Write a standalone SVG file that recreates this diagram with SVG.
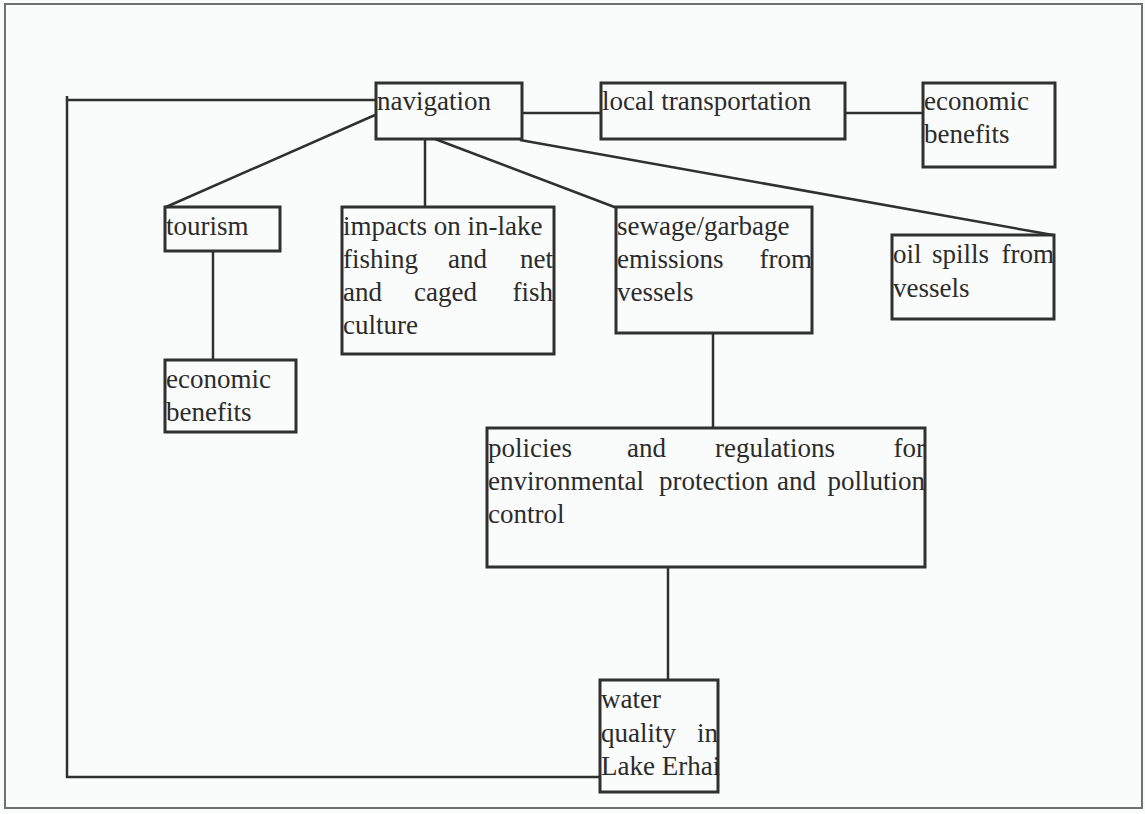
<svg xmlns="http://www.w3.org/2000/svg" width="1145" height="814" viewBox="0 0 1145 814">
  <style>
    .box { fill: none; stroke: #303030; stroke-width: 3; }
    .link { fill: none; stroke: #303030; stroke-width: 2.5; }
    .t { font-family: 'Liberation Serif', 'Times New Roman', Times, 'DejaVu Serif', serif; font-size: 27px; fill: #2b2b2b; }
    .e { text-anchor: end; }
  </style>
  <rect x="0" y="0" width="1145" height="814" fill="#fafbfb"/>
  <rect x="5" y="4" width="1137" height="804" fill="none" stroke="#707070" stroke-width="2"/>

  <g id="connectors">
    <path class="link" d="M376,100 H67 V777 H600"/>
    <path class="link" d="M67,96 V100"/>
    <path class="link" d="M522,113 H601"/>
    <path class="link" d="M845,113 H923"/>
    <path class="link" d="M375,115 L166,207"/>
    <path class="link" d="M425,139 V207"/>
    <path class="link" d="M435,139 L617,208"/>
    <path class="link" d="M520,140 L1053,235"/>
    <path class="link" d="M213,251 V360"/>
    <path class="link" d="M713,333 V428"/>
    <path class="link" d="M668,567 V680"/>
  </g>

  <g id="navigation">
    <rect class="box" x="376" y="83" width="146" height="56"/>
    <text class="t" x="377" y="110">navigation</text>
  </g>

  <g id="local-transportation">
    <rect class="box" x="601" y="83" width="244" height="56"/>
    <text class="t" x="602" y="110">local transportation</text>
  </g>

  <g id="economic-benefits-transport">
    <rect class="box" x="923" y="83" width="132" height="84"/>
    <text class="t" x="924" y="110">economic</text>
    <text class="t" x="924" y="143">benefits</text>
  </g>

  <g id="tourism">
    <rect class="box" x="165" y="207" width="115" height="44"/>
    <text class="t" x="166" y="235">tourism</text>
  </g>

  <g id="economic-benefits-tourism">
    <rect class="box" x="165" y="360" width="131" height="72"/>
    <text class="t" x="166" y="388">economic</text>
    <text class="t" x="166" y="421">benefits</text>
  </g>

  <g id="fishing-impacts">
    <rect class="box" x="342" y="207" width="212" height="147"/>
    <text class="t" x="343" y="235">impacts on in-lake</text>
    <text class="t" x="343" y="268">fishing</text>
    <text class="t" x="448" y="268">and</text>
    <text class="t e" x="553" y="268">net</text>
    <text class="t" x="343" y="301">and</text>
    <text class="t" x="414" y="301">caged</text>
    <text class="t e" x="553" y="301">fish</text>
    <text class="t" x="343" y="334">culture</text>
  </g>

  <g id="sewage-emissions">
    <rect class="box" x="616" y="207" width="196" height="126"/>
    <text class="t" x="617" y="235">sewage/garbage</text>
    <text class="t" x="617" y="268">emissions</text>
    <text class="t e" x="812" y="268">from</text>
    <text class="t" x="617" y="301">vessels</text>
  </g>

  <g id="oil-spills">
    <rect class="box" x="892" y="235" width="162" height="84"/>
    <text class="t" x="893" y="263">oil</text>
    <text class="t" x="932" y="263">spills</text>
    <text class="t e" x="1054" y="263">from</text>
    <text class="t" x="893" y="297">vessels</text>
  </g>

  <g id="policies">
    <rect class="box" x="487" y="428" width="438" height="139"/>
    <text class="t" x="488" y="457">policies</text>
    <text class="t" x="627" y="457">and</text>
    <text class="t" x="715" y="457">regulations</text>
    <text class="t e" x="925" y="457">for</text>
    <text class="t" x="488" y="490">environmental</text>
    <text class="t" x="659" y="490">protection</text>
    <text class="t" x="777" y="490">and</text>
    <text class="t e" x="925" y="490">pollution</text>
    <text class="t" x="488" y="523">control</text>
  </g>

  <g id="water-quality">
    <rect class="box" x="600" y="680" width="118" height="112"/>
    <text class="t" x="601" y="708">water</text>
    <text class="t" x="601" y="742">quality</text>
    <text class="t e" x="718" y="742">in</text>
    <text class="t" x="601" y="775">Lake Erhai</text>
  </g>
</svg>
